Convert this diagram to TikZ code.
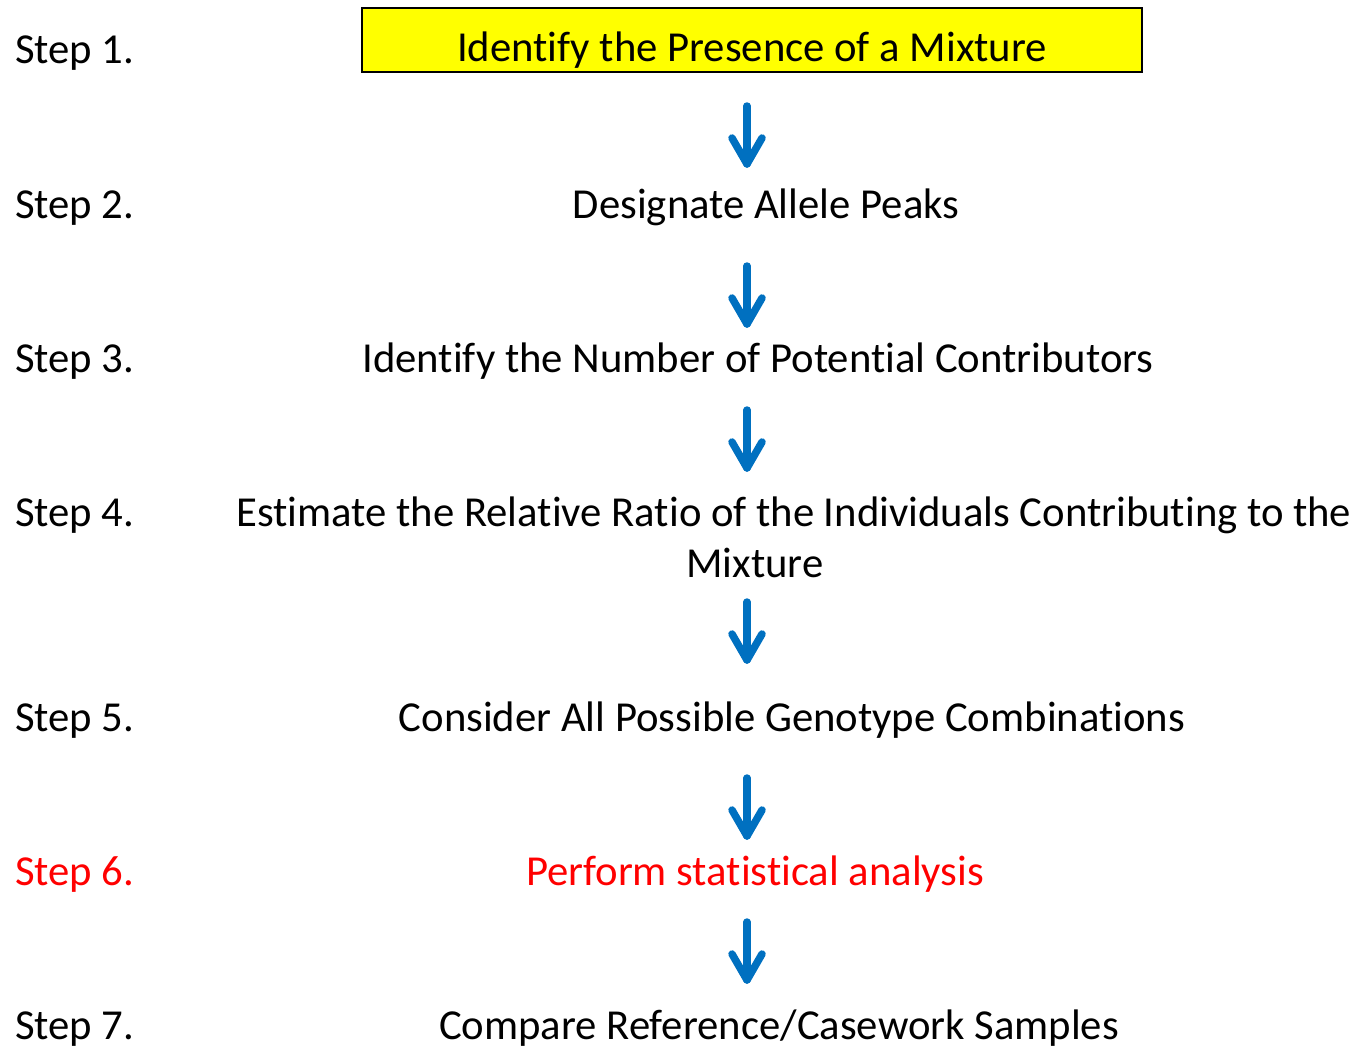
\documentclass[tikz,border=0pt]{standalone}
\usepackage{fontspec}
\setmainfont{Carlito}[Ligatures={NoCommon,NoContextual}]
\usetikzlibrary{calc}
\definecolor{arrowblue}{RGB}{0,112,192}
\definecolor{boxyellow}{RGB}{255,255,0}
\definecolor{stepred}{RGB}{255,0,0}
\begin{document}
\begin{tikzpicture}[x=1pt,y=-1pt,
  txt/.style={inner sep=0pt, anchor=base, font=\fontsize{42.7}{50}\selectfont},
  lbl/.style={txt, anchor=base west},
  flowarrow/.style={draw=arrowblue, line width=7.5pt, line cap=round, line join=round}]
\useasboundingbox (0,0) rectangle (1356,1045);
% yellow box
\node[draw=black, line width=1.5pt, fill=boxyellow, minimum width=780pt, minimum height=64pt, inner sep=0pt] (box) at (752,40) {};
\node[txt] (t1) at (752,61) {Identify the Presence of a Mixture};
\node[lbl] (s1) at (15,63) {Step 1.};
\node[lbl] (s2) at (15,218) {Step 2.};
\node[lbl] (s3) at (15,372) {Step 3.};
\node[lbl] (s4) at (15,526) {Step 4.};
\node[lbl] (s5) at (15,731) {Step 5.};
\node[lbl, text=stepred] (s6) at (15,885) {Step 6.};
\node[lbl] (s7) at (15,1039) {Step 7.};
\node[txt] (t2) at (766,218) {Designate Allele Peaks};
\node[txt] (t3) at (758,372) {Identify the Number of Potential Contributors};
\node[txt] (t4) at (794,526) {Estimate the Relative Ratio of the Individuals Contributing to the};
\node[txt] (t4b) at (755,577) {Mixture};
\node[txt] (t5) at (792,731) {Consider All Possible Genotype Combinations};
\node[txt, text=stepred] (t6) at (755,885) {Perform statistical analysis};
\node[txt] (t7) at (779,1039) {Compare Reference/Casework Samples};
% arrows
\foreach \n/\ya/\yb in {a1/106/164, a2/266/324, a3/410/468, a4/602/660, a5/778/836, a6/922/980}{
  \coordinate (\n s) at (747,\ya);
  \coordinate (\n e) at (747,\yb);
  \draw[flowarrow] (\n s) -- (\n e);
  \draw[flowarrow] ($(\n e)+(-15,-26)$) -- (\n e) -- ($(\n e)+(15,-26)$);
}
\end{tikzpicture}
\end{document}
